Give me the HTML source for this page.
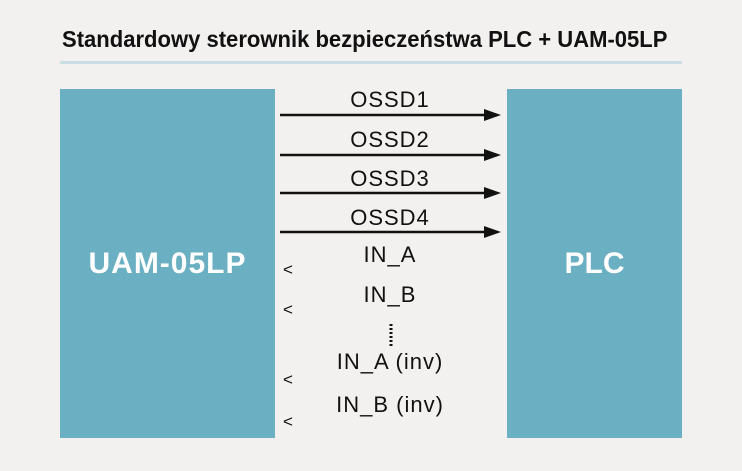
<html><head><style>
body{margin:0;width:742px;height:471px;background:#f3f1f0;position:relative;overflow:hidden;font-family:"Liberation Sans",sans-serif}
.t{position:absolute;white-space:nowrap}
.box{position:absolute;background:#6aafc2;color:#fff;font-weight:bold;font-size:30px;display:flex;align-items:center;justify-content:center}
.lab{position:absolute;left:280px;width:220px;text-align:center;font-size:22px;color:#111;letter-spacing:1px}
.lt{position:absolute;left:283px;font-size:17px;color:#111}
</style></head><body>
<div class="t" style="left:62px;top:26px;font-size:23px;font-weight:bold;color:#111;transform:scaleX(0.958);transform-origin:0 0">Standardowy sterownik bezpieczeństwa PLC + UAM-05LP</div>
<div style="position:absolute;left:60px;top:61px;width:622px;height:3px;background:#c9dde3"></div>
<div class="box" style="left:60px;top:89px;width:215px;height:349px;letter-spacing:1px">UAM-05LP</div>
<div class="box" style="left:507px;top:89px;width:175px;height:349px">PLC</div>
<svg width="742" height="471" style="position:absolute;left:0;top:0">
<g stroke="#111" stroke-width="2.5">
<line x1="280" y1="115" x2="485" y2="115"/><line x1="280" y1="155" x2="485" y2="155"/>
<line x1="280" y1="193" x2="485" y2="193"/><line x1="280" y1="232" x2="485" y2="232"/>
<line x1="391" y1="324" x2="391" y2="347" stroke-dasharray="2,2" stroke-width="3"/>
</g>
<g fill="#111">
<polygon points="484,109 501,115 484,121"/><polygon points="484,149 501,155 484,161"/>
<polygon points="484,187 501,193 484,199"/><polygon points="484,226 501,232 484,238"/>
</g></svg>
<div class="lab" style="top:87px">OSSD1</div>
<div class="lab" style="top:127px">OSSD2</div>
<div class="lab" style="top:166px">OSSD3</div>
<div class="lab" style="top:205px">OSSD4</div>
<div class="lab" style="top:242px">IN_A</div>
<div class="lab" style="top:282px">IN_B</div>
<div class="lab" style="top:349px">IN_A (inv)</div>
<div class="lab" style="top:392px">IN_B (inv)</div>
<div class="lt" style="top:260px">&lt;</div>
<div class="lt" style="top:300px">&lt;</div>
<div class="lt" style="top:370px">&lt;</div>
<div class="lt" style="top:412px">&lt;</div>
</body></html>
